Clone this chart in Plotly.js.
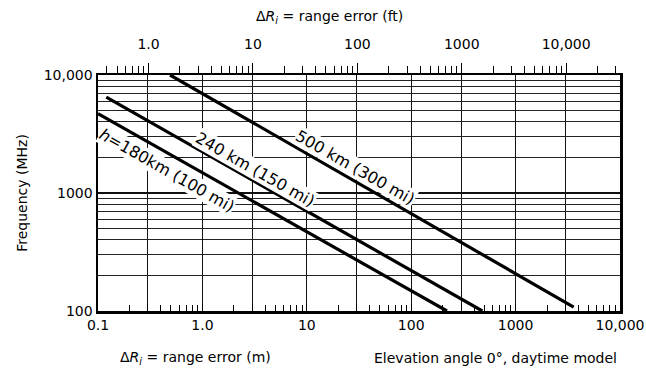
<!DOCTYPE html>
<html><head><meta charset="utf-8">
<script src="https://cdn.plot.ly/plotly-3.0.1.min.js"></script>
<style>html,body{margin:0;padding:0;background:#fff}</style>
</head><body><div id="chart" style="width:646px;height:374px"></div>
<script>
// Data
const seriesNames = ['h=180km (100 mi)', '240 km (150 mi)', '500 km (300 mi)'];
const rangeError180 = [0.1, 220];
const freq180 = [4700, 100];
const rangeError240 = [0.12, 480];
const freq240 = [6500, 100];
const rangeError500 = [0.49, 3600];
const freq500 = [10000, 108];

// Tick labels
const bottomTickVals = [0.1, 1, 10, 100, 1000, 10000];
const bottomTickText = ['0.1', '1.0', '10', '100', '1000', '10,000'];
const halfDecadeGrid = [0.3, 3, 30, 300, 3000];
const topTickVals = [1, 10, 100, 1000, 10000];
const topTickText = ['1.0', '10', '100', '1000', '10,000'];
const yTickVals = [100, 1000, 10000];
const yTickText = ['100', '1000', '10,000'];
const M_PER_FT = 0.3048;

// label positions (range error in m, frequency in MHz)
const labelX = [0.46, 3.19, 29.0];
const labelY = [1560, 1567, 1630];

function minorVals(fromExp, toExp) {
  const out = [];
  for (let e = fromExp; e < toExp; e++) for (let m = 2; m <= 9; m++) out.push(m * Math.pow(10, e));
  return out;
}

const FONT = '"DejaVu Sans", "Liberation Sans", sans-serif';

const lineStyle = {color: '#000', width: 3.2};
const traces = [
  {x: rangeError180, y: freq180, name: seriesNames[0], mode: 'lines', line: lineStyle, xaxis: 'x', yaxis: 'y'},
  // 240 km curve drawn on the tick-only metre axis (same scale as x)
  {x: rangeError240, y: freq240, name: seriesNames[1], mode: 'lines', line: lineStyle, xaxis: 'x3', yaxis: 'y'},
  // 500 km curve drawn against the top (feet) axis, same physical positions
  {x: rangeError500.map(v => v / M_PER_FT), y: freq500, name: seriesNames[2], mode: 'lines', line: lineStyle, xaxis: 'x2', yaxis: 'y'}
];

const layout = {
  width: 646, height: 374,
  margin: {l: 98, r: 26, t: 75, b: 63},
  paper_bgcolor: '#fff', plot_bgcolor: '#fff',
  showlegend: false,
  font: {family: FONT, color: '#000', size: 14},
  xaxis: {
    type: 'log', range: [-1, 4],
    tickmode: 'array', tickvals: bottomTickVals, ticktext: bottomTickText,
    ticks: 'inside', ticklen: 7, tickcolor: '#000', tickwidth: 1,
    showgrid: true, gridcolor: '#111', gridwidth: 1,
    showline: true, linecolor: '#000', linewidth: 2.5, mirror: false,
    zeroline: false, tickfont: {size: 14},
    minor: {tickmode: 'array', tickvals: halfDecadeGrid, ticks: 'inside', ticklen: 7, tickcolor: '#000', tickwidth: 1, showgrid: true, gridcolor: '#111', gridwidth: 1}
  },
  xaxis3: {
    type: 'log', overlaying: 'x', side: 'bottom', anchor: 'y', range: [-1, 4],
    tickmode: 'array', tickvals: minorVals(-1, 4),
    ticks: 'inside', ticklen: 6, tickcolor: '#000', tickwidth: 1,
    showticklabels: false, showgrid: false, showline: false, zeroline: false
  },
  xaxis2: {
    type: 'log', overlaying: 'x', side: 'top', anchor: 'y',
    range: [Math.log10(0.1 / M_PER_FT), Math.log10(10000 / M_PER_FT)],
    tickmode: 'array', tickvals: topTickVals, ticktext: topTickText,
    ticks: 'outside', ticklen: 10, tickcolor: '#000', tickwidth: 1,
    ticklabelstandoff: 8,
    showgrid: false, showline: true, linecolor: '#000', linewidth: 2.5,
    zeroline: false, tickfont: {size: 14},
    minor: {tickmode: 'array', tickvals: minorVals(-1, 5), ticks: 'outside', ticklen: 7, tickcolor: '#000', tickwidth: 1, showgrid: false}
  },
  yaxis: {
    type: 'log', range: [2, 4],
    tickmode: 'array', tickvals: yTickVals, ticktext: yTickText,
    ticks: '', showgrid: true, gridcolor: '#111', gridwidth: 1.6,
    showline: true, linecolor: '#000', linewidth: 2.5, mirror: true,
    zeroline: false, tickfont: {size: 14},
    minor: {tickmode: 'array', tickvals: minorVals(2, 4), ticks: '', showgrid: true, gridcolor: '#222', gridwidth: 1}
  },
  annotations: [
    {xref: 'x', yref: 'y', x: Math.log10(labelX[0]), y: Math.log10(labelY[0]), text: '<i>h</i>=180km (100 mi)', showarrow: false, textangle: 29.5, bgcolor: '#fff', borderpad: 0, font: {size: 16}},
    {xref: 'x', yref: 'y', x: Math.log10(labelX[1]), y: Math.log10(labelY[1]), text: seriesNames[1], showarrow: false, textangle: 29.5, bgcolor: '#fff', borderpad: 0, font: {size: 16}},
    {xref: 'x', yref: 'y', x: Math.log10(labelX[2]), y: Math.log10(labelY[2]), text: seriesNames[2], showarrow: false, textangle: 29.5, bgcolor: '#fff', borderpad: 0, font: {size: 16}},
    {xref: 'paper', yref: 'paper', x: 0.186, y: -0.199, xanchor: 'center', yanchor: 'middle', text: 'Δ<i>R<sub>i</sub></i> = range error (m)', showarrow: false, font: {size: 14}},
    {xref: 'paper', yref: 'paper', x: 0.761, y: -0.199, xanchor: 'center', yanchor: 'middle', text: 'Elevation angle 0°, daytime model', showarrow: false, font: {size: 14}},
    {xref: 'paper', yref: 'paper', x: 0.443, y: 1.246, xanchor: 'center', yanchor: 'middle', text: 'Δ<i>R<sub>i</sub></i> = range error (ft)', showarrow: false, font: {size: 14}},
    {xref: 'paper', yref: 'paper', x: -0.146, y: 0.5, xanchor: 'center', yanchor: 'middle', text: 'Frequency (MHz)', textangle: -90, showarrow: false, font: {size: 14}}
  ]
};

Plotly.newPlot('chart', traces, layout, {displayModeBar: false, staticPlot: true});
</script>
</body></html>
